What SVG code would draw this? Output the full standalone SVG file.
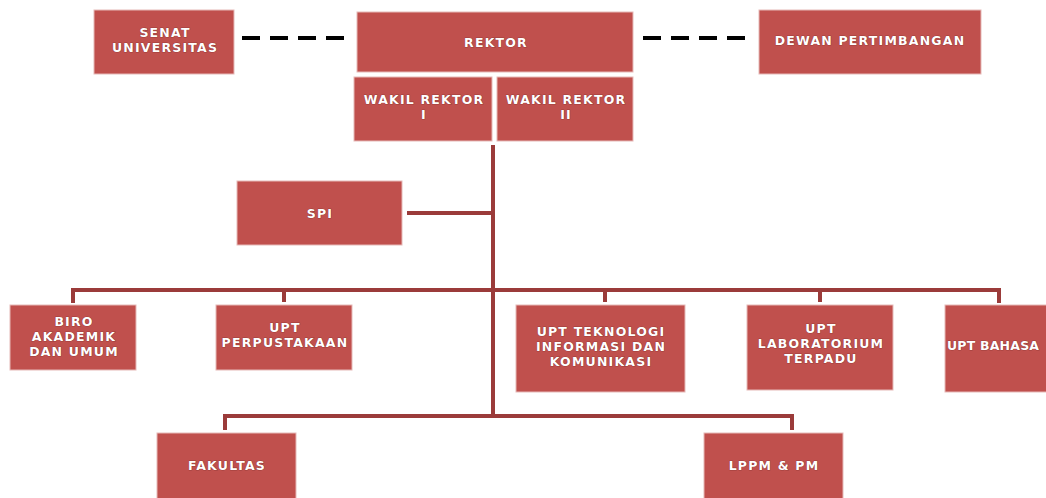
<svg xmlns="http://www.w3.org/2000/svg" width="1046" height="498" viewBox="0 0 1046 498">
<style>
.box{fill:#c0504d;stroke:#e6b9b8;stroke-width:1}
.t{font-family:"DejaVu Sans","Open Sans",sans-serif;font-weight:bold;font-size:12.5px;letter-spacing:1.2px;fill:#fff;text-anchor:middle;stroke:#7a2a28;stroke-width:0.7;paint-order:stroke}
.ln{stroke:#9b3b3a;stroke-width:4;fill:none}
.dash{stroke:#000;stroke-width:4;stroke-dasharray:18 10;fill:none}
</style>
<rect width="1046" height="498" fill="#fff"/>
<g id="connectors">
<line class="dash" x1="242" y1="38" x2="345" y2="38"/>
<line class="dash" x1="643" y1="38" x2="745" y2="38"/>
<line class="ln" x1="493" y1="145" x2="493" y2="417"/>
<line class="ln" x1="407" y1="213" x2="493" y2="213"/>
<polyline class="ln" points="73,303 73,290 999,290 999,303"/>
<line class="ln" x1="284" y1="290" x2="284" y2="302"/>
<line class="ln" x1="605" y1="290" x2="605" y2="302"/>
<line class="ln" x1="820" y1="290" x2="820" y2="302"/>
<polyline class="ln" points="225,430 225,416 792,416 792,430"/>
</g>
<g id="senat"><rect class="box" x="94" y="10" width="140" height="64"/><text class="t"><tspan x="165" y="37">SENAT</tspan><tspan x="165" y="52">UNIVERSITAS</tspan></text></g>
<g id="rektor"><rect class="box" x="357" y="12" width="276" height="60"/><text class="t" x="496" y="47">REKTOR</text></g>
<g id="dewan"><rect class="box" x="759" y="10" width="222" height="64"/><text class="t" x="870" y="45">DEWAN PERTIMBANGAN</text></g>
<g id="wr1"><rect class="box" x="354" y="77" width="138" height="64"/><text class="t"><tspan x="424" y="104">WAKIL REKTOR</tspan><tspan x="424" y="119">I</tspan></text></g>
<g id="wr2"><rect class="box" x="497" y="77" width="136" height="64"/><text class="t"><tspan x="566" y="104">WAKIL REKTOR</tspan><tspan x="566" y="119">II</tspan></text></g>
<g id="spi"><rect class="box" x="237" y="181" width="165" height="64"/><text class="t" x="320" y="218">SPI</text></g>
<g id="biro"><rect class="box" x="10" y="305" width="126" height="65"/><text class="t"><tspan x="74" y="326">BIRO</tspan><tspan x="74" y="341">AKADEMIK</tspan><tspan x="74" y="356">DAN UMUM</tspan></text></g>
<g id="perpus"><rect class="box" x="216" y="305" width="136" height="65"/><text class="t"><tspan x="285" y="332">UPT</tspan><tspan x="285" y="347">PERPUSTAKAAN</tspan></text></g>
<g id="tik"><rect class="box" x="516" y="305" width="169" height="87"/><text class="t"><tspan x="601" y="336">UPT TEKNOLOGI</tspan><tspan x="601" y="351">INFORMASI DAN</tspan><tspan x="601" y="366">KOMUNIKASI</tspan></text></g>
<g id="lab"><rect class="box" x="747" y="305" width="146" height="85"/><text class="t"><tspan x="821" y="333">UPT</tspan><tspan x="821" y="348">LABORATORIUM</tspan><tspan x="821" y="363">TERPADU</tspan></text></g>
<g id="bahasa"><rect class="box" x="945" y="305" width="110" height="87"/><text class="t" x="947" y="350" style="text-anchor:start;letter-spacing:0.2px">UPT BAHASA</text></g>
<g id="fakultas"><rect class="box" x="157" y="433" width="139" height="70"/><text class="t" x="227" y="470">FAKULTAS</text></g>
<g id="lppm"><rect class="box" x="704" y="433" width="139" height="70"/><text class="t" x="774" y="470">LPPM &amp; PM</text></g>
</svg>
